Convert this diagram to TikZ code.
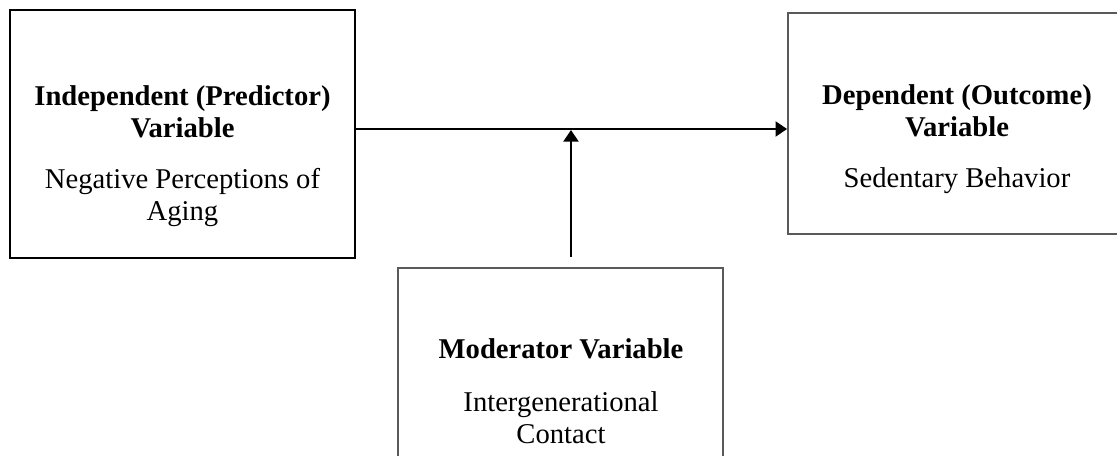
\documentclass[tikz,border=0pt]{standalone}
\usepackage{fontspec}
\setmainfont{Liberation Serif}
\usepackage{tikz}
\usetikzlibrary{arrows.meta,positioning,calc}

\begin{document}
\begin{tikzpicture}[
          x=0.02cm, y=-0.02cm,
          varbox/.style={rectangle, draw=#1, line width=1.1pt, fill=none, inner sep=0pt},
          vtext/.style={align=center, anchor=north, inner sep=0pt, font=\fontsize{16.3}{18.2}\selectfont},
          link/.style={-{Triangle[length=0.23cm, width=0.3cm]}, line width=1.2pt, black}
      ]
          \useasboundingbox (0,0) rectangle (1117,456);
          % boxes
          \node[varbox=black, minimum width=6.9cm, minimum height=4.96cm] (Indep) at (182.5,134) {};
          \node[varbox=black!65, minimum width=6.76cm, minimum height=4.42cm] (Dep) at (957,123.5) {};
          \node[varbox=black!65, minimum width=6.5cm, minimum height=4.4cm] (Mod) at (560.5,378) {};
          % texts
          \node[vtext] (IndepText) at (182.5,85) {\textbf{Independent (Predictor)}\\\textbf{Variable}\\[0.38cm]Negative Perceptions of\\Aging};
          \node[vtext] (DepText) at (957,84) {\textbf{Dependent (Outcome)}\\\textbf{Variable}\\[0.38cm]Sedentary Behavior};
          \node[vtext] (ModText) at (561,338) {\textbf{Moderator Variable}\\[0.42cm]Intergenerational\\Contact};
          % arrows
          \coordinate (Mid) at (571,129);
          \coordinate (ModOut) at (571,257);
          \draw[link] (Indep.east |- Mid) -- (Dep.west |- Mid);
          \draw[link] (ModOut) -- ([yshift=-0.6pt]Mid);
      \end{tikzpicture}
\end{document}
